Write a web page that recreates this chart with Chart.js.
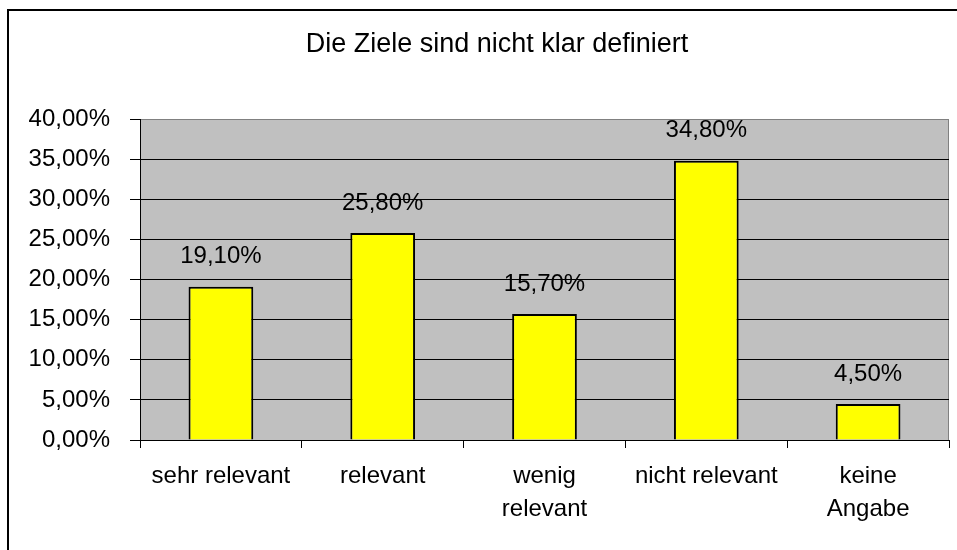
<!DOCTYPE html>
<html>
<head>
<meta charset="utf-8">
<script src="https://cdn.jsdelivr.net/npm/chart.js@4/dist/chart.umd.min.js"></script>
<style>
	html, body { margin: 0; padding: 0; background: #fff; }
	#wrap { width: 957px; height: 550px; }
</style>
</head>
<body>
<div id="wrap"><canvas id="chart"></canvas></div>
<script>
const categories = [
	'sehr relevant',
	'relevant',
	['wenig', 'relevant'],
	'nicht relevant',
	['keine', 'Angabe'],
]
const values = [0.191, 0.258, 0.157, 0.348, 0.045]
const yTicks = [0, 0.05, 0.1, 0.15, 0.2, 0.25, 0.3, 0.35, 0.4]
const title = 'Die Ziele sind nicht klar definiert'

const fontFamily = '"Liberation Sans", Arial, sans-serif'

const formatPercent = (value) => (value * 100).toFixed(2).replace('.', ',') + '%'

// plot area fill and outer frame, like the old Excel chart
const backgroundPlugin = {
	id: 'background',
	afterLayout: (chart) => {
		// let the y labels spill past the layout padding instead of being clipped
		chart.scales.y.left = 0
	},
	beforeDraw: (chart) => {
		const { ctx, chartArea } = chart
		ctx.save()
		ctx.strokeStyle = '#000'
		ctx.lineWidth = 2
		ctx.strokeRect(8, 10, chart.width + 20, chart.height + 20)
		ctx.fillStyle = '#c0c0c0'
		ctx.fillRect(chartArea.left, chartArea.top, chartArea.width, chartArea.height)
		ctx.strokeStyle = '#808080'
		ctx.lineWidth = 1
		ctx.beginPath()
		ctx.moveTo(chartArea.left, chartArea.top + 0.5)
		ctx.lineTo(chartArea.right - 0.5, chartArea.top + 0.5)
		ctx.lineTo(chartArea.right - 0.5, chartArea.bottom)
		ctx.stroke()
		ctx.restore()
	},
}

const valueLabelPlugin = {
	id: 'valueLabels',
	afterDatasetsDraw: (chart) => {
		const { ctx } = chart
		const meta = chart.getDatasetMeta(0)
		ctx.save()
		ctx.fillStyle = '#000'
		ctx.font = '24px ' + fontFamily
		ctx.textAlign = 'center'
		ctx.textBaseline = 'middle'
		meta.data.forEach((bar, i) => {
			ctx.fillText(formatPercent(values[i]), bar.x, bar.y - 30)
		})
		ctx.restore()
	},
}

const context = document.getElementById('chart').getContext('2d')
const chart = new Chart(context, {
	type: 'bar',
	data: {
		labels: categories,
		datasets: [
			{
				data: values,
				backgroundColor: '#ffff00',
				borderColor: '#000',
				borderWidth: 2,
				barPercentage: 0.4,
				categoryPercentage: 1,
			},
		],
	},
	options: {
		maintainAspectRatio: false,
		responsive: true,
		animation: false,
		layout: {
			padding: { left: 45, right: 8, top: 0, bottom: 0 },
		},
		plugins: {
			legend: { display: false },
			tooltip: { enabled: false },
			title: {
				display: true,
				text: title,
				color: '#000',
				font: { family: fontFamily, size: 27, weight: 'normal', lineHeight: 1.2 },
				padding: { top: 28, bottom: 58.6 },
			},
		},
		scales: {
			x: {
				grid: {
					drawOnChartArea: false,
					drawTicks: true,
					tickLength: 8,
					tickColor: '#000',
				},
				border: { color: '#000', width: 1 },
				ticks: {
					color: '#000',
					font: { family: fontFamily, size: 24, lineHeight: 1.375 },
					padding: 12,
					maxRotation: 0,
					autoSkip: false,
				},
				afterFit: (scale) => {
					scale.height = 110
				},
			},
			y: {
				min: 0,
				max: 0.4,
				afterBuildTicks: (scale) => {
					scale.ticks = yTicks.map((value) => ({ value }))
				},
				grid: {
					color: (c) => (c.tick && c.tick.value === 0.4 ? '#808080' : '#000'),
					tickColor: '#000',
					tickLength: 10,
				},
				border: { color: '#000', width: 1 },
				ticks: {
					color: '#000',
					font: { family: fontFamily, size: 24 },
					padding: 20,
					callback: (value) => formatPercent(value),
				},
				afterFit: (scale) => {
					scale.width = 95
				},
			},
		},
	},
	plugins: [backgroundPlugin, valueLabelPlugin],
})
</script>
</body>
</html>
